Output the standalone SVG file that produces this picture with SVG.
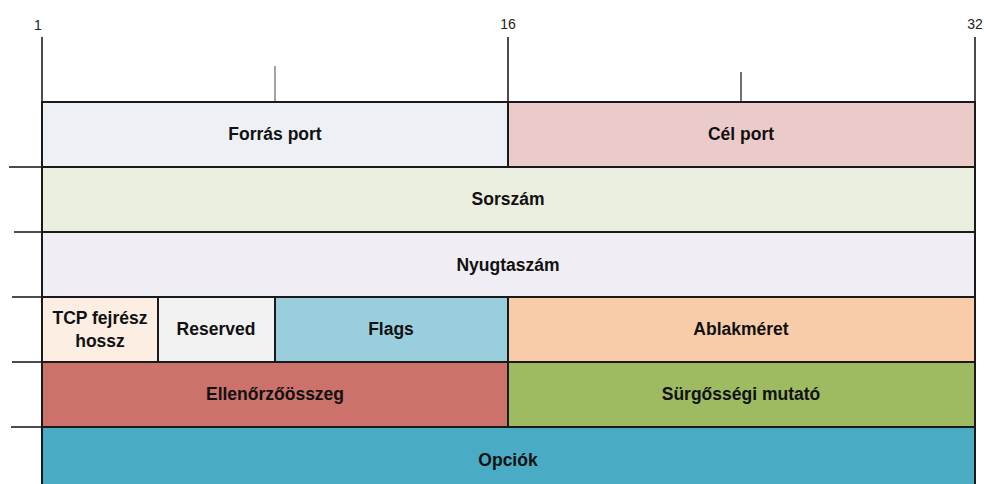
<svg xmlns="http://www.w3.org/2000/svg" width="984" height="484" viewBox="0 0 984 484">
<style>
.f{stroke:#1a1a1a;stroke-width:2}
.t{font-family:"Liberation Sans",Arial,sans-serif;font-weight:bold;font-size:17.5px;fill:#111;text-anchor:middle;dominant-baseline:central}
.n{font-family:"Liberation Sans",Arial,sans-serif;font-size:14px;fill:#222;text-anchor:middle}
.l{stroke:#111;stroke-width:1.5}
</style>
<rect width="984" height="484" fill="#fff"/>
<g id="ruler">
<text class="n" x="38" y="30">1</text>
<text class="n" x="508" y="29">16</text>
<text class="n" x="975" y="29">32</text>
<line class="l" x1="42" y1="37" x2="42" y2="102" stroke-width="2"/>
<line class="l" x1="508" y1="37" x2="508" y2="102" stroke-width="2"/>
<line class="l" x1="975" y1="37" x2="975" y2="102" stroke-width="2"/>
<line x1="275" y1="66" x2="275" y2="102" stroke="#666" stroke-width="1.2"/>
<line x1="741" y1="72" x2="741" y2="102" stroke="#111" stroke-width="1.2"/>
<line class="l" x1="9" y1="167" x2="42" y2="167"/>
<line class="l" x1="14" y1="232" x2="42" y2="232"/>
<line class="l" x1="12" y1="297" x2="42" y2="297"/>
<line class="l" x1="12" y1="362" x2="42" y2="362"/>
<line class="l" x1="11" y1="427" x2="42" y2="427"/>
</g>
<g id="forras"><rect class="f" x="42" y="102" width="466" height="65" fill="#EDF0F5"/><text class="t" x="275" y="134">Forrás port</text></g>
<g id="cel"><rect class="f" x="508" y="102" width="467" height="65" fill="#EBCBCA"/><text class="t" x="741" y="134">Cél port</text></g>
<g id="sorszam"><rect class="f" x="42" y="167" width="933" height="65" fill="#EAEEDF"/><text class="t" x="508" y="199">Sorszám</text></g>
<g id="nyugta"><rect class="f" x="42" y="232" width="933" height="65" fill="#F0EEF4"/><text class="t" x="508" y="265">Nyugtaszám</text></g>
<g id="hossz"><rect class="f" x="42" y="297" width="116" height="65" fill="#FCEEE3"/><text class="t" x="100" y="318">TCP fejrész</text><text class="t" x="100" y="341">hossz</text></g>
<g id="reserved"><rect class="f" x="158" y="297" width="117" height="65" fill="#F2F2F2"/><text class="t" x="216" y="329">Reserved</text></g>
<g id="flags"><rect class="f" x="275" y="297" width="233" height="65" fill="#99CFDC"/><text class="t" x="391" y="329">Flags</text></g>
<g id="ablak"><rect class="f" x="508" y="297" width="467" height="65" fill="#F9CCA9"/><text class="t" x="741" y="329">Ablakméret</text></g>
<g id="ellenorzo"><rect class="f" x="42" y="362" width="466" height="65" fill="#CD716B"/><text class="t" x="275" y="394">Ellenőrzőösszeg</text></g>
<g id="surgossegi"><rect class="f" x="508" y="362" width="467" height="65" fill="#9EBB62"/><text class="t" x="741" y="394">Sürgősségi mutató</text></g>
<g id="opciok"><rect class="f" x="42" y="427" width="933" height="70" fill="#4AABC5"/><text class="t" x="508" y="460">Opciók</text></g>
<g id="connectors"></g>
</svg>
